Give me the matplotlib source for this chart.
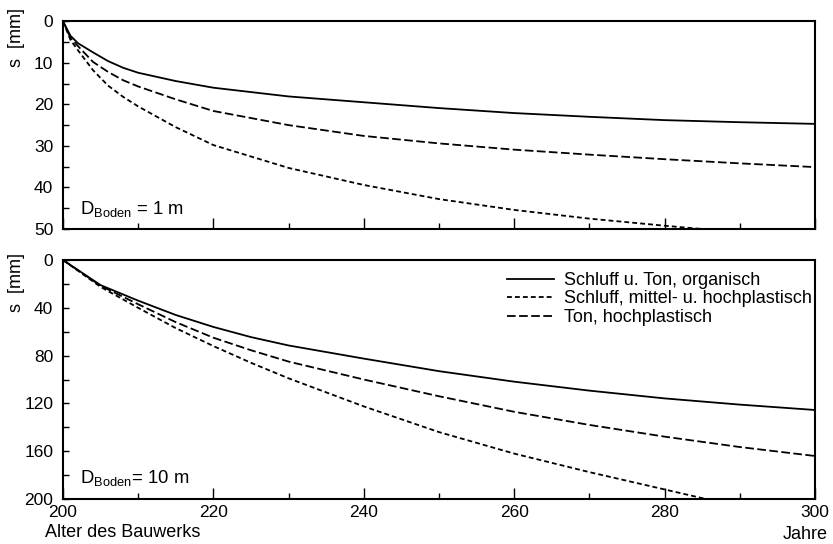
import matplotlib
matplotlib.use("Agg")
import matplotlib.pyplot as plt
from matplotlib.ticker import MultipleLocator

plt.rcParams['font.family'] = ['Liberation Sans', 'DejaVu Sans']
plt.rcParams['mathtext.fontset'] = 'custom'
plt.rcParams['mathtext.rm'] = 'Liberation Sans'

# ---- data: top panel (D_Boden = 1 m) ----
x_top_solid = [200, 201, 202, 204, 206, 208, 210, 215, 220, 230, 240, 250, 260, 270, 280, 290, 300]
s_top_solid = [0, 3.5, 5.3, 7.5, 9.6, 11.2, 12.4, 14.4, 16.0, 18.1, 19.5, 20.9, 22.1, 23.0, 23.8, 24.3, 24.7]
x_top_long = [200, 201, 202, 204, 206, 208, 210, 215, 220, 230, 240, 250, 260, 270, 280, 290, 300]
s_top_long = [0, 4.0, 6.0, 9.8, 12.2, 14.2, 15.7, 18.8, 21.6, 25.0, 27.6, 29.4, 30.9, 32.1, 33.2, 34.2, 35.1]
x_top_short = [200, 201, 202, 204, 206, 208, 210, 215, 220, 230, 240, 250, 260, 270, 280, 285]
s_top_short = [0, 4.5, 7.0, 11.8, 15.5, 18.2, 20.5, 25.5, 29.8, 35.3, 39.4, 42.8, 45.4, 47.5, 49.2, 50.0]

# ---- data: bottom panel (D_Boden = 10 m) ----
x_bot_solid = [200, 205, 210, 215, 220, 225, 230, 240, 250, 260, 270, 280, 290, 300]
s_bot_solid = [0, 21, 34, 46, 56, 64.5, 71.5, 82.5, 93, 101.8, 109.3, 115.8, 121, 125.5]
x_bot_long = [200, 205, 210, 215, 220, 225, 230, 240, 250, 260, 270, 280, 290, 300]
s_bot_long = [0, 21.5, 37, 52, 65, 75.5, 85, 100, 114, 127, 138, 147.8, 156.5, 164]
x_bot_short = [200, 205, 210, 215, 220, 225, 230, 240, 250, 260, 270, 280, 285.5]
s_bot_short = [0, 22.5, 40, 57, 72, 86, 99, 122.5, 144, 162, 177.5, 192, 200]

labels = ["Schluff u. Ton, organisch",
          "Schluff, mittel- u. hochplastisch",
          "Ton, hochplastisch"]
top_text = r"D$_{\mathrm{Boden}}$ = 1 m"
bot_text = r"D$_{\mathrm{Boden}}$= 10 m"

short_dash = (0, (2.7, 1.7))
long_dash = (0, (4.8, 1.9))

fig = plt.figure(figsize=(8.33, 5.44), dpi=100)
ax1 = fig.add_axes([0.0756, 0.579, 0.9028, 0.382])
ax2 = fig.add_axes([0.0756, 0.0827, 0.9028, 0.4393])

lw = 1.3
ax1.plot(x_top_solid, s_top_solid, color='black', lw=lw, ls='-')
ax1.plot(x_top_short, s_top_short, color='black', lw=lw, ls=short_dash)
ax1.plot(x_top_long, s_top_long, color='black', lw=lw, ls=long_dash)

ax2.plot(x_bot_solid, s_bot_solid, color='black', lw=lw, ls='-', label=labels[0])
ax2.plot(x_bot_short, s_bot_short, color='black', lw=lw, ls=short_dash, label=labels[1])
ax2.plot(x_bot_long, s_bot_long, color='black', lw=lw, ls=long_dash, label=labels[2])

for ax, ymax, ymaj, ymin in [(ax1, 50, 10, 5), (ax2, 200, 40, 20)]:
    ax.set_xlim(200, 300)
    ax.set_ylim(ymax, 0)
    ax.xaxis.set_major_locator(MultipleLocator(20))
    ax.xaxis.set_minor_locator(MultipleLocator(10))
    ax.yaxis.set_major_locator(MultipleLocator(ymaj))
    ax.yaxis.set_minor_locator(MultipleLocator(ymin))
    ax.tick_params(axis='both', which='both', direction='in', top=False, right=False,
                   labelsize=12.5, width=1.0)
    ax.tick_params(axis='x', which='major', length=8, pad=4)
    ax.tick_params(axis='x', which='minor', length=4)
    ax.tick_params(axis='y', which='major', length=4, pad=7)
    ax.tick_params(axis='y', which='minor', length=4)
    for sp in ax.spines.values():
        sp.set_linewidth(1.5)

ax1.tick_params(axis='x', labelbottom=False)

ax1.text(0.022, 0.05, top_text, transform=ax1.transAxes, fontsize=13.3,
         ha='left', va='bottom')
ax2.text(0.022, 0.045, bot_text, transform=ax2.transAxes, fontsize=13.3,
         ha='left', va='bottom')

ax2.legend(loc='upper left', bbox_to_anchor=(0.590, 0.95), frameon=False,
           fontsize=13, handlelength=2.6, handletextpad=0.6, labelspacing=0.08,
           borderpad=0.0, borderaxespad=0.0)

fig.text(0.020, 0.985, "s  [mm]", rotation=90, ha='center', va='top', fontsize=13)
fig.text(0.020, 0.535, "s  [mm]", rotation=90, ha='center', va='top', fontsize=13)
fig.text(0.054, 0.0125, "Alter des Bauwerks", ha='left', va='baseline', fontsize=13)
fig.text(0.994, 0.009, "Jahre", ha='right', va='baseline', fontsize=13)

fig.savefig("out.png", dpi=100)
